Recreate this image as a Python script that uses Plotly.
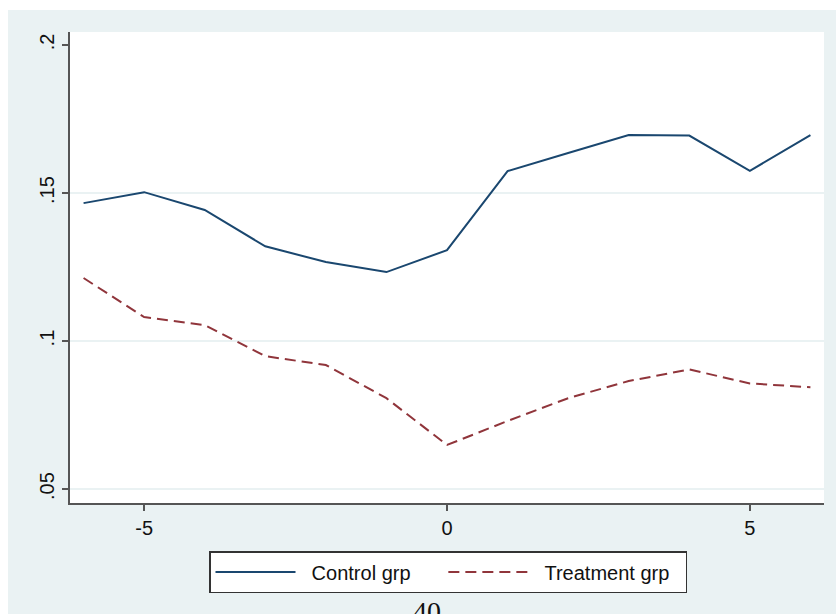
import plotly.graph_objects as go

# Event time relative to treatment
event_time = [-6, -5, -4, -3, -2, -1, 0, 1, 2, 3, 4, 5, 6]

# Group means by event time
control_grp = [0.1466, 0.1503, 0.1443, 0.1320, 0.1267, 0.1233, 0.1307,
               0.1574, 0.1635, 0.1696, 0.1694, 0.1575, 0.1696]
treatment_grp = [0.1213, 0.1081, 0.1054, 0.0949, 0.0919, 0.0807, 0.0649,
                 0.0730, 0.0807, 0.0865, 0.0904, 0.0857, 0.0844]

# Axis ticks
x_ticks = [-5, 0, 5]
x_ticklabels = ["-5", "0", "5"]
y_ticks = [0.05, 0.10, 0.15, 0.20]
y_ticklabels = [".05", ".1", ".15", ".2"]
y_gridvals = [0.05, 0.10, 0.15]

W, H = 836, 614
L, R, T, B = 70, 12, 32, 111
pw, ph = W - L - R, H - T - B


def px_x(p):
    return (p - L) / pw


def px_y(p):
    return (H - B - p) / ph


NAVY = "#1a476f"
MAROON = "#90353b"
PANEL = "#eaf2f3"
AXIS = "#555555"
FONT = "Liberation Sans, Arial, sans-serif"
NB = "\u00a0"  # non-breaking spaces pad the legend entries


def legend_label(text, trailing):
    return NB * 2 + text + NB * trailing


fig = go.Figure()
fig.add_trace(go.Scatter(
    x=event_time, y=control_grp, mode="lines",
    name=legend_label("Control grp", 5),
    line=dict(color=NAVY, width=2),
))
fig.add_trace(go.Scatter(
    x=event_time, y=treatment_grp, mode="lines",
    name=legend_label("Treatment grp", 2),
    line=dict(color=MAROON, width=2, dash="11px,6px"),
))

fig.update_layout(
    width=W, height=H,
    margin=dict(l=L, r=R, t=T, b=B, pad=0),
    paper_bgcolor=PANEL,
    plot_bgcolor="white",
    font=dict(family=FONT, size=20, color="#111111"),
    showlegend=True,
    legend=dict(
        orientation="h",
        x=px_x(209), y=px_y(551), xanchor="left", yanchor="top",
        bgcolor="white", bordercolor="#333333", borderwidth=1.5,
        font=dict(family=FONT, size=20, color="#111111"),
        itemwidth=80,
        tracegroupgap=0,
    ),
    xaxis=dict(
        range=[-6.224, 6.224],
        tickmode="array", tickvals=x_ticks, ticktext=x_ticklabels,
        ticks="outside", ticklen=6, tickwidth=1.5, tickcolor=AXIS,
        showline=True, linecolor=AXIS, linewidth=1.5,
        showgrid=False, zeroline=False,
        tickfont=dict(family=FONT, size=20, color="#111111"),
    ),
    yaxis=dict(
        range=[0.0453, 0.2044],
        tickmode="array", tickvals=y_ticks, ticktext=y_ticklabels,
        ticks="outside", ticklen=6, tickwidth=1.5, tickcolor=AXIS,
        showline=True, linecolor=AXIS, linewidth=1.5,
        showgrid=False, zeroline=False,
        tickangle=-90,
        tickfont=dict(family=FONT, size=20, color="#111111"),
        minor=dict(tickmode="array", tickvals=y_gridvals, showgrid=True,
                   gridcolor="#eaf2f3", gridwidth=2, ticklen=0),
    ),
    shapes=[
        # white page strips around the graph panel
        dict(type="rect", xref="paper", yref="paper", layer="below",
             x0=px_x(0), x1=px_x(W), y0=px_y(10), y1=px_y(0),
             fillcolor="white", line=dict(width=0)),
        dict(type="rect", xref="paper", yref="paper", layer="below",
             x0=px_x(0), x1=px_x(8), y0=px_y(H), y1=px_y(0),
             fillcolor="white", line=dict(width=0)),
    ],
    annotations=[
        dict(text="40", xref="paper", yref="paper",
             x=px_x(427), y=px_y(594), xanchor="center", yanchor="top",
             showarrow=False,
             font=dict(family="Liberation Serif, Times New Roman, serif",
                       size=28, color="#111111")),
    ],
)

fig.write_html("out.html")
